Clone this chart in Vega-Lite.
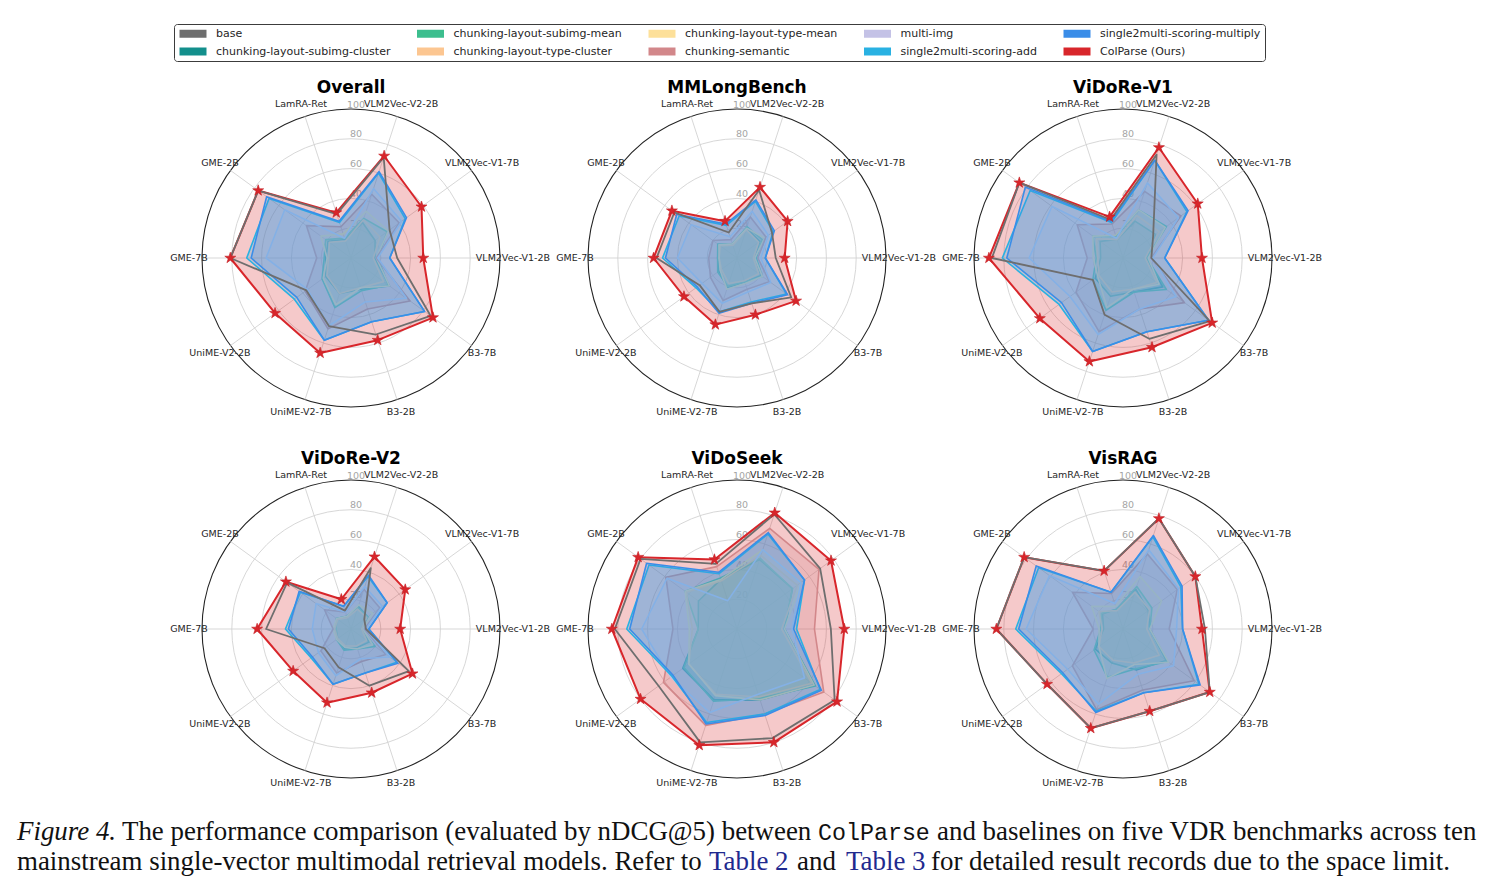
{
"$schema": "https://vega.github.io/schema/vega-lite/v6.json",
"background": "white",
"padding": {"left": 17, "top": 23, "right": 0, "bottom": 0},
"bounds": "flush",
"spacing": 689,
"config": {"font": "DejaVu Sans", "view": {"stroke": null}},
"datasets": {
"scores": [
{"b":"Overall","s":"base","m":"VLM2Vec-V1-2B","v":31},{"b":"Overall","s":"base","m":"VLM2Vec-V1-7B","v":32},{"b":"Overall","s":"base","m":"VLM2Vec-V2-2B","v":71},{"b":"Overall","s":"base","m":"LamRA-Ret","v":31},{"b":"Overall","s":"base","m":"GME-2B","v":77},{"b":"Overall","s":"base","m":"GME-7B","v":81},{"b":"Overall","s":"base","m":"UniME-V2-2B","v":37},{"b":"Overall","s":"base","m":"UniME-V2-7B","v":48},{"b":"Overall","s":"base","m":"B3-2B","v":54},{"b":"Overall","s":"base","m":"B3-7B","v":66},
{"b":"Overall","s":"chunking-layout-subimg-cluster","m":"VLM2Vec-V1-2B","v":16},{"b":"Overall","s":"chunking-layout-subimg-cluster","m":"VLM2Vec-V1-7B","v":20},{"b":"Overall","s":"chunking-layout-subimg-cluster","m":"VLM2Vec-V2-2B","v":25},{"b":"Overall","s":"chunking-layout-subimg-cluster","m":"LamRA-Ret","v":13},{"b":"Overall","s":"chunking-layout-subimg-cluster","m":"GME-2B","v":19},{"b":"Overall","s":"chunking-layout-subimg-cluster","m":"GME-7B","v":17},{"b":"Overall","s":"chunking-layout-subimg-cluster","m":"UniME-V2-2B","v":21},{"b":"Overall","s":"chunking-layout-subimg-cluster","m":"UniME-V2-7B","v":25},{"b":"Overall","s":"chunking-layout-subimg-cluster","m":"B3-2B","v":22},{"b":"Overall","s":"chunking-layout-subimg-cluster","m":"B3-7B","v":32},
{"b":"Overall","s":"chunking-layout-subimg-mean","m":"VLM2Vec-V1-2B","v":18},{"b":"Overall","s":"chunking-layout-subimg-mean","m":"VLM2Vec-V1-7B","v":30},{"b":"Overall","s":"chunking-layout-subimg-mean","m":"VLM2Vec-V2-2B","v":28},{"b":"Overall","s":"chunking-layout-subimg-mean","m":"LamRA-Ret","v":14},{"b":"Overall","s":"chunking-layout-subimg-mean","m":"GME-2B","v":21},{"b":"Overall","s":"chunking-layout-subimg-mean","m":"GME-7B","v":18},{"b":"Overall","s":"chunking-layout-subimg-mean","m":"UniME-V2-2B","v":24},{"b":"Overall","s":"chunking-layout-subimg-mean","m":"UniME-V2-7B","v":35},{"b":"Overall","s":"chunking-layout-subimg-mean","m":"B3-2B","v":23},{"b":"Overall","s":"chunking-layout-subimg-mean","m":"B3-7B","v":31},
{"b":"Overall","s":"chunking-layout-type-cluster","m":"VLM2Vec-V1-2B","v":15},{"b":"Overall","s":"chunking-layout-type-cluster","m":"VLM2Vec-V1-7B","v":24},{"b":"Overall","s":"chunking-layout-type-cluster","m":"VLM2Vec-V2-2B","v":27},{"b":"Overall","s":"chunking-layout-type-cluster","m":"LamRA-Ret","v":12},{"b":"Overall","s":"chunking-layout-type-cluster","m":"GME-2B","v":18},{"b":"Overall","s":"chunking-layout-type-cluster","m":"GME-7B","v":15},{"b":"Overall","s":"chunking-layout-type-cluster","m":"UniME-V2-2B","v":20},{"b":"Overall","s":"chunking-layout-type-cluster","m":"UniME-V2-7B","v":25},{"b":"Overall","s":"chunking-layout-type-cluster","m":"B3-2B","v":21},{"b":"Overall","s":"chunking-layout-type-cluster","m":"B3-7B","v":27},
{"b":"Overall","s":"chunking-layout-type-mean","m":"VLM2Vec-V1-2B","v":17},{"b":"Overall","s":"chunking-layout-type-mean","m":"VLM2Vec-V1-7B","v":31},{"b":"Overall","s":"chunking-layout-type-mean","m":"VLM2Vec-V2-2B","v":33},{"b":"Overall","s":"chunking-layout-type-mean","m":"LamRA-Ret","v":17},{"b":"Overall","s":"chunking-layout-type-mean","m":"GME-2B","v":25},{"b":"Overall","s":"chunking-layout-type-mean","m":"GME-7B","v":16},{"b":"Overall","s":"chunking-layout-type-mean","m":"UniME-V2-2B","v":23},{"b":"Overall","s":"chunking-layout-type-mean","m":"UniME-V2-7B","v":33},{"b":"Overall","s":"chunking-layout-type-mean","m":"B3-2B","v":21},{"b":"Overall","s":"chunking-layout-type-mean","m":"B3-7B","v":32},
{"b":"Overall","s":"chunking-semantic","m":"VLM2Vec-V1-2B","v":17},{"b":"Overall","s":"chunking-semantic","m":"VLM2Vec-V1-7B","v":40},{"b":"Overall","s":"chunking-semantic","m":"VLM2Vec-V2-2B","v":45},{"b":"Overall","s":"chunking-semantic","m":"LamRA-Ret","v":22},{"b":"Overall","s":"chunking-semantic","m":"GME-2B","v":37},{"b":"Overall","s":"chunking-semantic","m":"GME-7B","v":23},{"b":"Overall","s":"chunking-semantic","m":"UniME-V2-2B","v":38},{"b":"Overall","s":"chunking-semantic","m":"UniME-V2-7B","v":50},{"b":"Overall","s":"chunking-semantic","m":"B3-2B","v":36},{"b":"Overall","s":"chunking-semantic","m":"B3-7B","v":49},
{"b":"Overall","s":"multi-img","m":"VLM2Vec-V1-2B","v":18},{"b":"Overall","s":"multi-img","m":"VLM2Vec-V1-7B","v":42},{"b":"Overall","s":"multi-img","m":"VLM2Vec-V2-2B","v":49},{"b":"Overall","s":"multi-img","m":"LamRA-Ret","v":14},{"b":"Overall","s":"multi-img","m":"GME-2B","v":55},{"b":"Overall","s":"multi-img","m":"GME-7B","v":57},{"b":"Overall","s":"multi-img","m":"UniME-V2-2B","v":36},{"b":"Overall","s":"multi-img","m":"UniME-V2-7B","v":48},{"b":"Overall","s":"multi-img","m":"B3-2B","v":31},{"b":"Overall","s":"multi-img","m":"B3-7B","v":46},
{"b":"Overall","s":"single2multi-scoring-add","m":"VLM2Vec-V1-2B","v":26},{"b":"Overall","s":"single2multi-scoring-add","m":"VLM2Vec-V1-7B","v":45},{"b":"Overall","s":"single2multi-scoring-add","m":"VLM2Vec-V2-2B","v":60},{"b":"Overall","s":"single2multi-scoring-add","m":"LamRA-Ret","v":25},{"b":"Overall","s":"single2multi-scoring-add","m":"GME-2B","v":68},{"b":"Overall","s":"single2multi-scoring-add","m":"GME-7B","v":70},{"b":"Overall","s":"single2multi-scoring-add","m":"UniME-V2-2B","v":47},{"b":"Overall","s":"single2multi-scoring-add","m":"UniME-V2-7B","v":58},{"b":"Overall","s":"single2multi-scoring-add","m":"B3-2B","v":45},{"b":"Overall","s":"single2multi-scoring-add","m":"B3-7B","v":61},
{"b":"Overall","s":"single2multi-scoring-multiply","m":"VLM2Vec-V1-2B","v":26},{"b":"Overall","s":"single2multi-scoring-multiply","m":"VLM2Vec-V1-7B","v":46},{"b":"Overall","s":"single2multi-scoring-multiply","m":"VLM2Vec-V2-2B","v":61},{"b":"Overall","s":"single2multi-scoring-multiply","m":"LamRA-Ret","v":26},{"b":"Overall","s":"single2multi-scoring-multiply","m":"GME-2B","v":70},{"b":"Overall","s":"single2multi-scoring-multiply","m":"GME-7B","v":67},{"b":"Overall","s":"single2multi-scoring-multiply","m":"UniME-V2-2B","v":45},{"b":"Overall","s":"single2multi-scoring-multiply","m":"UniME-V2-7B","v":58},{"b":"Overall","s":"single2multi-scoring-multiply","m":"B3-2B","v":45},{"b":"Overall","s":"single2multi-scoring-multiply","m":"B3-7B","v":61},
{"b":"Overall","s":"ColParse (Ours)","m":"VLM2Vec-V1-2B","v":48.5},{"b":"Overall","s":"ColParse (Ours)","m":"VLM2Vec-V1-7B","v":58.5},{"b":"Overall","s":"ColParse (Ours)","m":"VLM2Vec-V2-2B","v":72},{"b":"Overall","s":"ColParse (Ours)","m":"LamRA-Ret","v":32},{"b":"Overall","s":"ColParse (Ours)","m":"GME-2B","v":77},{"b":"Overall","s":"ColParse (Ours)","m":"GME-7B","v":81},{"b":"Overall","s":"ColParse (Ours)","m":"UniME-V2-2B","v":63},{"b":"Overall","s":"ColParse (Ours)","m":"UniME-V2-7B","v":67},{"b":"Overall","s":"ColParse (Ours)","m":"B3-2B","v":58},{"b":"Overall","s":"ColParse (Ours)","m":"B3-7B","v":68},

{"b":"MMLongBench","s":"base","m":"VLM2Vec-V1-2B","v":26},{"b":"MMLongBench","s":"base","m":"VLM2Vec-V1-7B","v":29},{"b":"MMLongBench","s":"base","m":"VLM2Vec-V2-2B","v":48},{"b":"MMLongBench","s":"base","m":"LamRA-Ret","v":18},{"b":"MMLongBench","s":"base","m":"GME-2B","v":52},{"b":"MMLongBench","s":"base","m":"GME-7B","v":54},{"b":"MMLongBench","s":"base","m":"UniME-V2-2B","v":31},{"b":"MMLongBench","s":"base","m":"UniME-V2-7B","v":38},{"b":"MMLongBench","s":"base","m":"B3-2B","v":32},{"b":"MMLongBench","s":"base","m":"B3-7B","v":45},
{"b":"MMLongBench","s":"chunking-layout-subimg-cluster","m":"VLM2Vec-V1-2B","v":12},{"b":"MMLongBench","s":"chunking-layout-subimg-cluster","m":"VLM2Vec-V1-7B","v":19},{"b":"MMLongBench","s":"chunking-layout-subimg-cluster","m":"VLM2Vec-V2-2B","v":21},{"b":"MMLongBench","s":"chunking-layout-subimg-cluster","m":"LamRA-Ret","v":10},{"b":"MMLongBench","s":"chunking-layout-subimg-cluster","m":"GME-2B","v":15},{"b":"MMLongBench","s":"chunking-layout-subimg-cluster","m":"GME-7B","v":13},{"b":"MMLongBench","s":"chunking-layout-subimg-cluster","m":"UniME-V2-2B","v":15},{"b":"MMLongBench","s":"chunking-layout-subimg-cluster","m":"UniME-V2-7B","v":21},{"b":"MMLongBench","s":"chunking-layout-subimg-cluster","m":"B3-2B","v":17},{"b":"MMLongBench","s":"chunking-layout-subimg-cluster","m":"B3-7B","v":20},
{"b":"MMLongBench","s":"chunking-layout-subimg-mean","m":"VLM2Vec-V1-2B","v":13},{"b":"MMLongBench","s":"chunking-layout-subimg-mean","m":"VLM2Vec-V1-7B","v":21},{"b":"MMLongBench","s":"chunking-layout-subimg-mean","m":"VLM2Vec-V2-2B","v":22},{"b":"MMLongBench","s":"chunking-layout-subimg-mean","m":"LamRA-Ret","v":10},{"b":"MMLongBench","s":"chunking-layout-subimg-mean","m":"GME-2B","v":16},{"b":"MMLongBench","s":"chunking-layout-subimg-mean","m":"GME-7B","v":13},{"b":"MMLongBench","s":"chunking-layout-subimg-mean","m":"UniME-V2-2B","v":16},{"b":"MMLongBench","s":"chunking-layout-subimg-mean","m":"UniME-V2-7B","v":20},{"b":"MMLongBench","s":"chunking-layout-subimg-mean","m":"B3-2B","v":17},{"b":"MMLongBench","s":"chunking-layout-subimg-mean","m":"B3-7B","v":21},
{"b":"MMLongBench","s":"chunking-layout-type-cluster","m":"VLM2Vec-V1-2B","v":11},{"b":"MMLongBench","s":"chunking-layout-type-cluster","m":"VLM2Vec-V1-7B","v":18},{"b":"MMLongBench","s":"chunking-layout-type-cluster","m":"VLM2Vec-V2-2B","v":20},{"b":"MMLongBench","s":"chunking-layout-type-cluster","m":"LamRA-Ret","v":9},{"b":"MMLongBench","s":"chunking-layout-type-cluster","m":"GME-2B","v":14},{"b":"MMLongBench","s":"chunking-layout-type-cluster","m":"GME-7B","v":12},{"b":"MMLongBench","s":"chunking-layout-type-cluster","m":"UniME-V2-2B","v":13},{"b":"MMLongBench","s":"chunking-layout-type-cluster","m":"UniME-V2-7B","v":18},{"b":"MMLongBench","s":"chunking-layout-type-cluster","m":"B3-2B","v":16},{"b":"MMLongBench","s":"chunking-layout-type-cluster","m":"B3-7B","v":18},
{"b":"MMLongBench","s":"chunking-layout-type-mean","m":"VLM2Vec-V1-2B","v":12},{"b":"MMLongBench","s":"chunking-layout-type-mean","m":"VLM2Vec-V1-7B","v":23},{"b":"MMLongBench","s":"chunking-layout-type-mean","m":"VLM2Vec-V2-2B","v":21},{"b":"MMLongBench","s":"chunking-layout-type-mean","m":"LamRA-Ret","v":10},{"b":"MMLongBench","s":"chunking-layout-type-mean","m":"GME-2B","v":15},{"b":"MMLongBench","s":"chunking-layout-type-mean","m":"GME-7B","v":12},{"b":"MMLongBench","s":"chunking-layout-type-mean","m":"UniME-V2-2B","v":14},{"b":"MMLongBench","s":"chunking-layout-type-mean","m":"UniME-V2-7B","v":22},{"b":"MMLongBench","s":"chunking-layout-type-mean","m":"B3-2B","v":18},{"b":"MMLongBench","s":"chunking-layout-type-mean","m":"B3-7B","v":21},
{"b":"MMLongBench","s":"chunking-semantic","m":"VLM2Vec-V1-2B","v":14},{"b":"MMLongBench","s":"chunking-semantic","m":"VLM2Vec-V1-7B","v":24},{"b":"MMLongBench","s":"chunking-semantic","m":"VLM2Vec-V2-2B","v":29},{"b":"MMLongBench","s":"chunking-semantic","m":"LamRA-Ret","v":13},{"b":"MMLongBench","s":"chunking-semantic","m":"GME-2B","v":20},{"b":"MMLongBench","s":"chunking-semantic","m":"GME-7B","v":19},{"b":"MMLongBench","s":"chunking-semantic","m":"UniME-V2-2B","v":22},{"b":"MMLongBench","s":"chunking-semantic","m":"UniME-V2-7B","v":30},{"b":"MMLongBench","s":"chunking-semantic","m":"B3-2B","v":22},{"b":"MMLongBench","s":"chunking-semantic","m":"B3-7B","v":27},
{"b":"MMLongBench","s":"multi-img","m":"VLM2Vec-V1-2B","v":16},{"b":"MMLongBench","s":"multi-img","m":"VLM2Vec-V1-7B","v":26},{"b":"MMLongBench","s":"multi-img","m":"VLM2Vec-V2-2B","v":33},{"b":"MMLongBench","s":"multi-img","m":"LamRA-Ret","v":15},{"b":"MMLongBench","s":"multi-img","m":"GME-2B","v":38},{"b":"MMLongBench","s":"multi-img","m":"GME-7B","v":40},{"b":"MMLongBench","s":"multi-img","m":"UniME-V2-2B","v":29},{"b":"MMLongBench","s":"multi-img","m":"UniME-V2-7B","v":32},{"b":"MMLongBench","s":"multi-img","m":"B3-2B","v":24},{"b":"MMLongBench","s":"multi-img","m":"B3-7B","v":28},
{"b":"MMLongBench","s":"single2multi-scoring-add","m":"VLM2Vec-V1-2B","v":19},{"b":"MMLongBench","s":"single2multi-scoring-add","m":"VLM2Vec-V1-7B","v":30},{"b":"MMLongBench","s":"single2multi-scoring-add","m":"VLM2Vec-V2-2B","v":40},{"b":"MMLongBench","s":"single2multi-scoring-add","m":"LamRA-Ret","v":23},{"b":"MMLongBench","s":"single2multi-scoring-add","m":"GME-2B","v":48},{"b":"MMLongBench","s":"single2multi-scoring-add","m":"GME-7B","v":50},{"b":"MMLongBench","s":"single2multi-scoring-add","m":"UniME-V2-2B","v":34},{"b":"MMLongBench","s":"single2multi-scoring-add","m":"UniME-V2-7B","v":38},{"b":"MMLongBench","s":"single2multi-scoring-add","m":"B3-2B","v":31},{"b":"MMLongBench","s":"single2multi-scoring-add","m":"B3-7B","v":41},
{"b":"MMLongBench","s":"single2multi-scoring-multiply","m":"VLM2Vec-V1-2B","v":19},{"b":"MMLongBench","s":"single2multi-scoring-multiply","m":"VLM2Vec-V1-7B","v":31},{"b":"MMLongBench","s":"single2multi-scoring-multiply","m":"VLM2Vec-V2-2B","v":41},{"b":"MMLongBench","s":"single2multi-scoring-multiply","m":"LamRA-Ret","v":24},{"b":"MMLongBench","s":"single2multi-scoring-multiply","m":"GME-2B","v":50},{"b":"MMLongBench","s":"single2multi-scoring-multiply","m":"GME-7B","v":48},{"b":"MMLongBench","s":"single2multi-scoring-multiply","m":"UniME-V2-2B","v":33},{"b":"MMLongBench","s":"single2multi-scoring-multiply","m":"UniME-V2-7B","v":39},{"b":"MMLongBench","s":"single2multi-scoring-multiply","m":"B3-2B","v":32},{"b":"MMLongBench","s":"single2multi-scoring-multiply","m":"B3-7B","v":42},
{"b":"MMLongBench","s":"ColParse (Ours)","m":"VLM2Vec-V1-2B","v":32},{"b":"MMLongBench","s":"ColParse (Ours)","m":"VLM2Vec-V1-7B","v":42},{"b":"MMLongBench","s":"ColParse (Ours)","m":"VLM2Vec-V2-2B","v":50},{"b":"MMLongBench","s":"ColParse (Ours)","m":"LamRA-Ret","v":26},{"b":"MMLongBench","s":"ColParse (Ours)","m":"GME-2B","v":54},{"b":"MMLongBench","s":"ColParse (Ours)","m":"GME-7B","v":56},{"b":"MMLongBench","s":"ColParse (Ours)","m":"UniME-V2-2B","v":44},{"b":"MMLongBench","s":"ColParse (Ours)","m":"UniME-V2-7B","v":47},{"b":"MMLongBench","s":"ColParse (Ours)","m":"B3-2B","v":40},{"b":"MMLongBench","s":"ColParse (Ours)","m":"B3-7B","v":49},

{"b":"ViDoRe-V1","s":"base","m":"VLM2Vec-V1-2B","v":19},{"b":"ViDoRe-V1","s":"base","m":"VLM2Vec-V1-7B","v":25},{"b":"ViDoRe-V1","s":"base","m":"VLM2Vec-V2-2B","v":73},{"b":"ViDoRe-V1","s":"base","m":"LamRA-Ret","v":27},{"b":"ViDoRe-V1","s":"base","m":"GME-2B","v":86},{"b":"ViDoRe-V1","s":"base","m":"GME-7B","v":88},{"b":"ViDoRe-V1","s":"base","m":"UniME-V2-2B","v":25},{"b":"ViDoRe-V1","s":"base","m":"UniME-V2-7B","v":40},{"b":"ViDoRe-V1","s":"base","m":"B3-2B","v":57},{"b":"ViDoRe-V1","s":"base","m":"B3-7B","v":72},
{"b":"ViDoRe-V1","s":"chunking-layout-subimg-cluster","m":"VLM2Vec-V1-2B","v":16},{"b":"ViDoRe-V1","s":"chunking-layout-subimg-cluster","m":"VLM2Vec-V1-7B","v":27},{"b":"ViDoRe-V1","s":"chunking-layout-subimg-cluster","m":"VLM2Vec-V2-2B","v":26},{"b":"ViDoRe-V1","s":"chunking-layout-subimg-cluster","m":"LamRA-Ret","v":13},{"b":"ViDoRe-V1","s":"chunking-layout-subimg-cluster","m":"GME-2B","v":19},{"b":"ViDoRe-V1","s":"chunking-layout-subimg-cluster","m":"GME-7B","v":15},{"b":"ViDoRe-V1","s":"chunking-layout-subimg-cluster","m":"UniME-V2-2B","v":23},{"b":"ViDoRe-V1","s":"chunking-layout-subimg-cluster","m":"UniME-V2-7B","v":27},{"b":"ViDoRe-V1","s":"chunking-layout-subimg-cluster","m":"B3-2B","v":24},{"b":"ViDoRe-V1","s":"chunking-layout-subimg-cluster","m":"B3-7B","v":33},
{"b":"ViDoRe-V1","s":"chunking-layout-subimg-mean","m":"VLM2Vec-V1-2B","v":16},{"b":"ViDoRe-V1","s":"chunking-layout-subimg-mean","m":"VLM2Vec-V1-7B","v":36},{"b":"ViDoRe-V1","s":"chunking-layout-subimg-mean","m":"VLM2Vec-V2-2B","v":34},{"b":"ViDoRe-V1","s":"chunking-layout-subimg-mean","m":"LamRA-Ret","v":15},{"b":"ViDoRe-V1","s":"chunking-layout-subimg-mean","m":"GME-2B","v":25},{"b":"ViDoRe-V1","s":"chunking-layout-subimg-mean","m":"GME-7B","v":18},{"b":"ViDoRe-V1","s":"chunking-layout-subimg-mean","m":"UniME-V2-2B","v":25},{"b":"ViDoRe-V1","s":"chunking-layout-subimg-mean","m":"UniME-V2-7B","v":37},{"b":"ViDoRe-V1","s":"chunking-layout-subimg-mean","m":"B3-2B","v":24},{"b":"ViDoRe-V1","s":"chunking-layout-subimg-mean","m":"B3-7B","v":36},
{"b":"ViDoRe-V1","s":"chunking-layout-type-cluster","m":"VLM2Vec-V1-2B","v":15},{"b":"ViDoRe-V1","s":"chunking-layout-type-cluster","m":"VLM2Vec-V1-7B","v":30},{"b":"ViDoRe-V1","s":"chunking-layout-type-cluster","m":"VLM2Vec-V2-2B","v":30},{"b":"ViDoRe-V1","s":"chunking-layout-type-cluster","m":"LamRA-Ret","v":13},{"b":"ViDoRe-V1","s":"chunking-layout-type-cluster","m":"GME-2B","v":22},{"b":"ViDoRe-V1","s":"chunking-layout-type-cluster","m":"GME-7B","v":17},{"b":"ViDoRe-V1","s":"chunking-layout-type-cluster","m":"UniME-V2-2B","v":20},{"b":"ViDoRe-V1","s":"chunking-layout-type-cluster","m":"UniME-V2-7B","v":24},{"b":"ViDoRe-V1","s":"chunking-layout-type-cluster","m":"B3-2B","v":22},{"b":"ViDoRe-V1","s":"chunking-layout-type-cluster","m":"B3-7B","v":28},
{"b":"ViDoRe-V1","s":"chunking-layout-type-mean","m":"VLM2Vec-V1-2B","v":17},{"b":"ViDoRe-V1","s":"chunking-layout-type-mean","m":"VLM2Vec-V1-7B","v":35},{"b":"ViDoRe-V1","s":"chunking-layout-type-mean","m":"VLM2Vec-V2-2B","v":34},{"b":"ViDoRe-V1","s":"chunking-layout-type-mean","m":"LamRA-Ret","v":16},{"b":"ViDoRe-V1","s":"chunking-layout-type-mean","m":"GME-2B","v":25},{"b":"ViDoRe-V1","s":"chunking-layout-type-mean","m":"GME-7B","v":20},{"b":"ViDoRe-V1","s":"chunking-layout-type-mean","m":"UniME-V2-2B","v":21},{"b":"ViDoRe-V1","s":"chunking-layout-type-mean","m":"UniME-V2-7B","v":35},{"b":"ViDoRe-V1","s":"chunking-layout-type-mean","m":"B3-2B","v":22},{"b":"ViDoRe-V1","s":"chunking-layout-type-mean","m":"B3-7B","v":30},
{"b":"ViDoRe-V1","s":"chunking-semantic","m":"VLM2Vec-V1-2B","v":19},{"b":"ViDoRe-V1","s":"chunking-semantic","m":"VLM2Vec-V1-7B","v":48},{"b":"ViDoRe-V1","s":"chunking-semantic","m":"VLM2Vec-V2-2B","v":47},{"b":"ViDoRe-V1","s":"chunking-semantic","m":"LamRA-Ret","v":24},{"b":"ViDoRe-V1","s":"chunking-semantic","m":"GME-2B","v":38},{"b":"ViDoRe-V1","s":"chunking-semantic","m":"GME-7B","v":24},{"b":"ViDoRe-V1","s":"chunking-semantic","m":"UniME-V2-2B","v":39},{"b":"ViDoRe-V1","s":"chunking-semantic","m":"UniME-V2-7B","v":52},{"b":"ViDoRe-V1","s":"chunking-semantic","m":"B3-2B","v":36},{"b":"ViDoRe-V1","s":"chunking-semantic","m":"B3-7B","v":51},
{"b":"ViDoRe-V1","s":"multi-img","m":"VLM2Vec-V1-2B","v":20},{"b":"ViDoRe-V1","s":"multi-img","m":"VLM2Vec-V1-7B","v":46},{"b":"ViDoRe-V1","s":"multi-img","m":"VLM2Vec-V2-2B","v":53},{"b":"ViDoRe-V1","s":"multi-img","m":"LamRA-Ret","v":14},{"b":"ViDoRe-V1","s":"multi-img","m":"GME-2B","v":59},{"b":"ViDoRe-V1","s":"multi-img","m":"GME-7B","v":63},{"b":"ViDoRe-V1","s":"multi-img","m":"UniME-V2-2B","v":44},{"b":"ViDoRe-V1","s":"multi-img","m":"UniME-V2-7B","v":54},{"b":"ViDoRe-V1","s":"multi-img","m":"B3-2B","v":36},{"b":"ViDoRe-V1","s":"multi-img","m":"B3-7B","v":44},
{"b":"ViDoRe-V1","s":"single2multi-scoring-add","m":"VLM2Vec-V1-2B","v":28},{"b":"ViDoRe-V1","s":"single2multi-scoring-add","m":"VLM2Vec-V1-7B","v":53},{"b":"ViDoRe-V1","s":"single2multi-scoring-add","m":"VLM2Vec-V2-2B","v":69},{"b":"ViDoRe-V1","s":"single2multi-scoring-add","m":"LamRA-Ret","v":25},{"b":"ViDoRe-V1","s":"single2multi-scoring-add","m":"GME-2B","v":77},{"b":"ViDoRe-V1","s":"single2multi-scoring-add","m":"GME-7B","v":81},{"b":"ViDoRe-V1","s":"single2multi-scoring-add","m":"UniME-V2-2B","v":53},{"b":"ViDoRe-V1","s":"single2multi-scoring-add","m":"UniME-V2-7B","v":66},{"b":"ViDoRe-V1","s":"single2multi-scoring-add","m":"B3-2B","v":52},{"b":"ViDoRe-V1","s":"single2multi-scoring-add","m":"B3-7B","v":71},
{"b":"ViDoRe-V1","s":"single2multi-scoring-multiply","m":"VLM2Vec-V1-2B","v":28},{"b":"ViDoRe-V1","s":"single2multi-scoring-multiply","m":"VLM2Vec-V1-7B","v":54},{"b":"ViDoRe-V1","s":"single2multi-scoring-multiply","m":"VLM2Vec-V2-2B","v":69},{"b":"ViDoRe-V1","s":"single2multi-scoring-multiply","m":"LamRA-Ret","v":26},{"b":"ViDoRe-V1","s":"single2multi-scoring-multiply","m":"GME-2B","v":81},{"b":"ViDoRe-V1","s":"single2multi-scoring-multiply","m":"GME-7B","v":78},{"b":"ViDoRe-V1","s":"single2multi-scoring-multiply","m":"UniME-V2-2B","v":51},{"b":"ViDoRe-V1","s":"single2multi-scoring-multiply","m":"UniME-V2-7B","v":66},{"b":"ViDoRe-V1","s":"single2multi-scoring-multiply","m":"B3-2B","v":52},{"b":"ViDoRe-V1","s":"single2multi-scoring-multiply","m":"B3-7B","v":71},
{"b":"ViDoRe-V1","s":"ColParse (Ours)","m":"VLM2Vec-V1-2B","v":53},{"b":"ViDoRe-V1","s":"ColParse (Ours)","m":"VLM2Vec-V1-7B","v":62},{"b":"ViDoRe-V1","s":"ColParse (Ours)","m":"VLM2Vec-V2-2B","v":78},{"b":"ViDoRe-V1","s":"ColParse (Ours)","m":"LamRA-Ret","v":29},{"b":"ViDoRe-V1","s":"ColParse (Ours)","m":"GME-2B","v":86},{"b":"ViDoRe-V1","s":"ColParse (Ours)","m":"GME-7B","v":90},{"b":"ViDoRe-V1","s":"ColParse (Ours)","m":"UniME-V2-2B","v":69},{"b":"ViDoRe-V1","s":"ColParse (Ours)","m":"UniME-V2-7B","v":73},{"b":"ViDoRe-V1","s":"ColParse (Ours)","m":"B3-2B","v":63},{"b":"ViDoRe-V1","s":"ColParse (Ours)","m":"B3-7B","v":74},

{"b":"ViDoRe-V2","s":"base","m":"VLM2Vec-V1-2B","v":10},{"b":"ViDoRe-V2","s":"base","m":"VLM2Vec-V1-7B","v":11},{"b":"ViDoRe-V2","s":"base","m":"VLM2Vec-V2-2B","v":43},{"b":"ViDoRe-V2","s":"base","m":"LamRA-Ret","v":13},{"b":"ViDoRe-V2","s":"base","m":"GME-2B","v":53},{"b":"ViDoRe-V2","s":"base","m":"GME-7B","v":57},{"b":"ViDoRe-V2","s":"base","m":"UniME-V2-2B","v":22},{"b":"ViDoRe-V2","s":"base","m":"UniME-V2-7B","v":27},{"b":"ViDoRe-V2","s":"base","m":"B3-2B","v":40},{"b":"ViDoRe-V2","s":"base","m":"B3-7B","v":48},
{"b":"ViDoRe-V2","s":"chunking-layout-subimg-cluster","m":"VLM2Vec-V1-2B","v":7},{"b":"ViDoRe-V2","s":"chunking-layout-subimg-cluster","m":"VLM2Vec-V1-7B","v":14},{"b":"ViDoRe-V2","s":"chunking-layout-subimg-cluster","m":"VLM2Vec-V2-2B","v":16},{"b":"ViDoRe-V2","s":"chunking-layout-subimg-cluster","m":"LamRA-Ret","v":9},{"b":"ViDoRe-V2","s":"chunking-layout-subimg-cluster","m":"GME-2B","v":12},{"b":"ViDoRe-V2","s":"chunking-layout-subimg-cluster","m":"GME-7B","v":10},{"b":"ViDoRe-V2","s":"chunking-layout-subimg-cluster","m":"UniME-V2-2B","v":11},{"b":"ViDoRe-V2","s":"chunking-layout-subimg-cluster","m":"UniME-V2-7B","v":14},{"b":"ViDoRe-V2","s":"chunking-layout-subimg-cluster","m":"B3-2B","v":13},{"b":"ViDoRe-V2","s":"chunking-layout-subimg-cluster","m":"B3-7B","v":15},
{"b":"ViDoRe-V2","s":"chunking-layout-subimg-mean","m":"VLM2Vec-V1-2B","v":7},{"b":"ViDoRe-V2","s":"chunking-layout-subimg-mean","m":"VLM2Vec-V1-7B","v":14},{"b":"ViDoRe-V2","s":"chunking-layout-subimg-mean","m":"VLM2Vec-V2-2B","v":15},{"b":"ViDoRe-V2","s":"chunking-layout-subimg-mean","m":"LamRA-Ret","v":9},{"b":"ViDoRe-V2","s":"chunking-layout-subimg-mean","m":"GME-2B","v":12},{"b":"ViDoRe-V2","s":"chunking-layout-subimg-mean","m":"GME-7B","v":10},{"b":"ViDoRe-V2","s":"chunking-layout-subimg-mean","m":"UniME-V2-2B","v":12},{"b":"ViDoRe-V2","s":"chunking-layout-subimg-mean","m":"UniME-V2-7B","v":15},{"b":"ViDoRe-V2","s":"chunking-layout-subimg-mean","m":"B3-2B","v":14},{"b":"ViDoRe-V2","s":"chunking-layout-subimg-mean","m":"B3-7B","v":20},
{"b":"ViDoRe-V2","s":"chunking-layout-type-cluster","m":"VLM2Vec-V1-2B","v":7},{"b":"ViDoRe-V2","s":"chunking-layout-type-cluster","m":"VLM2Vec-V1-7B","v":13},{"b":"ViDoRe-V2","s":"chunking-layout-type-cluster","m":"VLM2Vec-V2-2B","v":14},{"b":"ViDoRe-V2","s":"chunking-layout-type-cluster","m":"LamRA-Ret","v":8},{"b":"ViDoRe-V2","s":"chunking-layout-type-cluster","m":"GME-2B","v":11},{"b":"ViDoRe-V2","s":"chunking-layout-type-cluster","m":"GME-7B","v":11},{"b":"ViDoRe-V2","s":"chunking-layout-type-cluster","m":"UniME-V2-2B","v":11},{"b":"ViDoRe-V2","s":"chunking-layout-type-cluster","m":"UniME-V2-7B","v":12},{"b":"ViDoRe-V2","s":"chunking-layout-type-cluster","m":"B3-2B","v":12},{"b":"ViDoRe-V2","s":"chunking-layout-type-cluster","m":"B3-7B","v":13},
{"b":"ViDoRe-V2","s":"chunking-layout-type-mean","m":"VLM2Vec-V1-2B","v":8},{"b":"ViDoRe-V2","s":"chunking-layout-type-mean","m":"VLM2Vec-V1-7B","v":18},{"b":"ViDoRe-V2","s":"chunking-layout-type-mean","m":"VLM2Vec-V2-2B","v":17},{"b":"ViDoRe-V2","s":"chunking-layout-type-mean","m":"LamRA-Ret","v":9},{"b":"ViDoRe-V2","s":"chunking-layout-type-mean","m":"GME-2B","v":12},{"b":"ViDoRe-V2","s":"chunking-layout-type-mean","m":"GME-7B","v":12},{"b":"ViDoRe-V2","s":"chunking-layout-type-mean","m":"UniME-V2-2B","v":12},{"b":"ViDoRe-V2","s":"chunking-layout-type-mean","m":"UniME-V2-7B","v":13},{"b":"ViDoRe-V2","s":"chunking-layout-type-mean","m":"B3-2B","v":14},{"b":"ViDoRe-V2","s":"chunking-layout-type-mean","m":"B3-7B","v":18},
{"b":"ViDoRe-V2","s":"chunking-semantic","m":"VLM2Vec-V1-2B","v":9},{"b":"ViDoRe-V2","s":"chunking-semantic","m":"VLM2Vec-V1-7B","v":24},{"b":"ViDoRe-V2","s":"chunking-semantic","m":"VLM2Vec-V2-2B","v":28},{"b":"ViDoRe-V2","s":"chunking-semantic","m":"LamRA-Ret","v":12},{"b":"ViDoRe-V2","s":"chunking-semantic","m":"GME-2B","v":22},{"b":"ViDoRe-V2","s":"chunking-semantic","m":"GME-7B","v":12},{"b":"ViDoRe-V2","s":"chunking-semantic","m":"UniME-V2-2B","v":25},{"b":"ViDoRe-V2","s":"chunking-semantic","m":"UniME-V2-7B","v":31},{"b":"ViDoRe-V2","s":"chunking-semantic","m":"B3-2B","v":23},{"b":"ViDoRe-V2","s":"chunking-semantic","m":"B3-7B","v":29},
{"b":"ViDoRe-V2","s":"multi-img","m":"VLM2Vec-V1-2B","v":10},{"b":"ViDoRe-V2","s":"multi-img","m":"VLM2Vec-V1-7B","v":26},{"b":"ViDoRe-V2","s":"multi-img","m":"VLM2Vec-V2-2B","v":30},{"b":"ViDoRe-V2","s":"multi-img","m":"LamRA-Ret","v":12},{"b":"ViDoRe-V2","s":"multi-img","m":"GME-2B","v":29},{"b":"ViDoRe-V2","s":"multi-img","m":"GME-7B","v":26},{"b":"ViDoRe-V2","s":"multi-img","m":"UniME-V2-2B","v":27},{"b":"ViDoRe-V2","s":"multi-img","m":"UniME-V2-7B","v":33},{"b":"ViDoRe-V2","s":"multi-img","m":"B3-2B","v":21},{"b":"ViDoRe-V2","s":"multi-img","m":"B3-7B","v":32},
{"b":"ViDoRe-V2","s":"single2multi-scoring-add","m":"VLM2Vec-V1-2B","v":12},{"b":"ViDoRe-V2","s":"single2multi-scoring-add","m":"VLM2Vec-V1-7B","v":30},{"b":"ViDoRe-V2","s":"single2multi-scoring-add","m":"VLM2Vec-V2-2B","v":37},{"b":"ViDoRe-V2","s":"single2multi-scoring-add","m":"LamRA-Ret","v":16},{"b":"ViDoRe-V2","s":"single2multi-scoring-add","m":"GME-2B","v":42},{"b":"ViDoRe-V2","s":"single2multi-scoring-add","m":"GME-7B","v":44},{"b":"ViDoRe-V2","s":"single2multi-scoring-add","m":"UniME-V2-2B","v":33},{"b":"ViDoRe-V2","s":"single2multi-scoring-add","m":"UniME-V2-7B","v":39},{"b":"ViDoRe-V2","s":"single2multi-scoring-add","m":"B3-2B","v":31},{"b":"ViDoRe-V2","s":"single2multi-scoring-add","m":"B3-7B","v":38},
{"b":"ViDoRe-V2","s":"single2multi-scoring-multiply","m":"VLM2Vec-V1-2B","v":12},{"b":"ViDoRe-V2","s":"single2multi-scoring-multiply","m":"VLM2Vec-V1-7B","v":30},{"b":"ViDoRe-V2","s":"single2multi-scoring-multiply","m":"VLM2Vec-V2-2B","v":38},{"b":"ViDoRe-V2","s":"single2multi-scoring-multiply","m":"LamRA-Ret","v":16},{"b":"ViDoRe-V2","s":"single2multi-scoring-multiply","m":"GME-2B","v":43},{"b":"ViDoRe-V2","s":"single2multi-scoring-multiply","m":"GME-7B","v":42},{"b":"ViDoRe-V2","s":"single2multi-scoring-multiply","m":"UniME-V2-2B","v":32},{"b":"ViDoRe-V2","s":"single2multi-scoring-multiply","m":"UniME-V2-7B","v":39},{"b":"ViDoRe-V2","s":"single2multi-scoring-multiply","m":"B3-2B","v":31},{"b":"ViDoRe-V2","s":"single2multi-scoring-multiply","m":"B3-7B","v":39},
{"b":"ViDoRe-V2","s":"ColParse (Ours)","m":"VLM2Vec-V1-2B","v":33},{"b":"ViDoRe-V2","s":"ColParse (Ours)","m":"VLM2Vec-V1-7B","v":45},{"b":"ViDoRe-V2","s":"ColParse (Ours)","m":"VLM2Vec-V2-2B","v":51},{"b":"ViDoRe-V2","s":"ColParse (Ours)","m":"LamRA-Ret","v":21},{"b":"ViDoRe-V2","s":"ColParse (Ours)","m":"GME-2B","v":54},{"b":"ViDoRe-V2","s":"ColParse (Ours)","m":"GME-7B","v":63},{"b":"ViDoRe-V2","s":"ColParse (Ours)","m":"UniME-V2-2B","v":48},{"b":"ViDoRe-V2","s":"ColParse (Ours)","m":"UniME-V2-7B","v":52},{"b":"ViDoRe-V2","s":"ColParse (Ours)","m":"B3-2B","v":45},{"b":"ViDoRe-V2","s":"ColParse (Ours)","m":"B3-7B","v":51},

{"b":"ViDoSeek","s":"base","m":"VLM2Vec-V1-2B","v":63},{"b":"ViDoSeek","s":"base","m":"VLM2Vec-V1-7B","v":69},{"b":"ViDoSeek","s":"base","m":"VLM2Vec-V2-2B","v":81},{"b":"ViDoSeek","s":"base","m":"LamRA-Ret","v":46},{"b":"ViDoSeek","s":"base","m":"GME-2B","v":80},{"b":"ViDoSeek","s":"base","m":"GME-7B","v":82},{"b":"ViDoSeek","s":"base","m":"UniME-V2-2B","v":65},{"b":"ViDoSeek","s":"base","m":"UniME-V2-7B","v":80},{"b":"ViDoSeek","s":"base","m":"B3-2B","v":77},{"b":"ViDoSeek","s":"base","m":"B3-7B","v":81},
{"b":"ViDoSeek","s":"chunking-layout-subimg-cluster","m":"VLM2Vec-V1-2B","v":32},{"b":"ViDoSeek","s":"chunking-layout-subimg-cluster","m":"VLM2Vec-V1-7B","v":46},{"b":"ViDoSeek","s":"chunking-layout-subimg-cluster","m":"VLM2Vec-V2-2B","v":49},{"b":"ViDoSeek","s":"chunking-layout-subimg-cluster","m":"LamRA-Ret","v":35},{"b":"ViDoSeek","s":"chunking-layout-subimg-cluster","m":"GME-2B","v":32},{"b":"ViDoSeek","s":"chunking-layout-subimg-cluster","m":"GME-7B","v":26},{"b":"ViDoSeek","s":"chunking-layout-subimg-cluster","m":"UniME-V2-2B","v":45},{"b":"ViDoSeek","s":"chunking-layout-subimg-cluster","m":"UniME-V2-7B","v":50},{"b":"ViDoSeek","s":"chunking-layout-subimg-cluster","m":"B3-2B","v":50},{"b":"ViDoSeek","s":"chunking-layout-subimg-cluster","m":"B3-7B","v":64},
{"b":"ViDoSeek","s":"chunking-layout-subimg-mean","m":"VLM2Vec-V1-2B","v":32},{"b":"ViDoSeek","s":"chunking-layout-subimg-mean","m":"VLM2Vec-V1-7B","v":46},{"b":"ViDoSeek","s":"chunking-layout-subimg-mean","m":"VLM2Vec-V2-2B","v":50},{"b":"ViDoSeek","s":"chunking-layout-subimg-mean","m":"LamRA-Ret","v":36},{"b":"ViDoSeek","s":"chunking-layout-subimg-mean","m":"GME-2B","v":43},{"b":"ViDoSeek","s":"chunking-layout-subimg-mean","m":"GME-7B","v":26},{"b":"ViDoSeek","s":"chunking-layout-subimg-mean","m":"UniME-V2-2B","v":44},{"b":"ViDoSeek","s":"chunking-layout-subimg-mean","m":"UniME-V2-7B","v":51},{"b":"ViDoSeek","s":"chunking-layout-subimg-mean","m":"B3-2B","v":49},{"b":"ViDoSeek","s":"chunking-layout-subimg-mean","m":"B3-7B","v":65},
{"b":"ViDoSeek","s":"chunking-layout-type-cluster","m":"VLM2Vec-V1-2B","v":30},{"b":"ViDoSeek","s":"chunking-layout-type-cluster","m":"VLM2Vec-V1-7B","v":50},{"b":"ViDoSeek","s":"chunking-layout-type-cluster","m":"VLM2Vec-V2-2B","v":52},{"b":"ViDoSeek","s":"chunking-layout-type-cluster","m":"LamRA-Ret","v":34},{"b":"ViDoSeek","s":"chunking-layout-type-cluster","m":"GME-2B","v":42},{"b":"ViDoSeek","s":"chunking-layout-type-cluster","m":"GME-7B","v":30},{"b":"ViDoSeek","s":"chunking-layout-type-cluster","m":"UniME-V2-2B","v":40},{"b":"ViDoSeek","s":"chunking-layout-type-cluster","m":"UniME-V2-7B","v":46},{"b":"ViDoSeek","s":"chunking-layout-type-cluster","m":"B3-2B","v":48},{"b":"ViDoSeek","s":"chunking-layout-type-cluster","m":"B3-7B","v":62},
{"b":"ViDoSeek","s":"chunking-layout-type-mean","m":"VLM2Vec-V1-2B","v":32},{"b":"ViDoSeek","s":"chunking-layout-type-mean","m":"VLM2Vec-V1-7B","v":53},{"b":"ViDoSeek","s":"chunking-layout-type-mean","m":"VLM2Vec-V2-2B","v":56},{"b":"ViDoSeek","s":"chunking-layout-type-mean","m":"LamRA-Ret","v":35},{"b":"ViDoSeek","s":"chunking-layout-type-mean","m":"GME-2B","v":43},{"b":"ViDoSeek","s":"chunking-layout-type-mean","m":"GME-7B","v":32},{"b":"ViDoSeek","s":"chunking-layout-type-mean","m":"UniME-V2-2B","v":40},{"b":"ViDoSeek","s":"chunking-layout-type-mean","m":"UniME-V2-7B","v":47},{"b":"ViDoSeek","s":"chunking-layout-type-mean","m":"B3-2B","v":50},{"b":"ViDoSeek","s":"chunking-layout-type-mean","m":"B3-7B","v":64},
{"b":"ViDoSeek","s":"chunking-semantic","m":"VLM2Vec-V1-2B","v":52},{"b":"ViDoSeek","s":"chunking-semantic","m":"VLM2Vec-V1-7B","v":68},{"b":"ViDoSeek","s":"chunking-semantic","m":"VLM2Vec-V2-2B","v":71},{"b":"ViDoSeek","s":"chunking-semantic","m":"LamRA-Ret","v":44},{"b":"ViDoSeek","s":"chunking-semantic","m":"GME-2B","v":59},{"b":"ViDoSeek","s":"chunking-semantic","m":"GME-7B","v":43},{"b":"ViDoSeek","s":"chunking-semantic","m":"UniME-V2-2B","v":61},{"b":"ViDoSeek","s":"chunking-semantic","m":"UniME-V2-7B","v":68},{"b":"ViDoSeek","s":"chunking-semantic","m":"B3-2B","v":60},{"b":"ViDoSeek","s":"chunking-semantic","m":"B3-7B","v":72},
{"b":"ViDoSeek","s":"multi-img","m":"VLM2Vec-V1-2B","v":37},{"b":"ViDoSeek","s":"multi-img","m":"VLM2Vec-V1-7B","v":53},{"b":"ViDoSeek","s":"multi-img","m":"VLM2Vec-V2-2B","v":56},{"b":"ViDoSeek","s":"multi-img","m":"LamRA-Ret","v":20},{"b":"ViDoSeek","s":"multi-img","m":"GME-2B","v":58},{"b":"ViDoSeek","s":"multi-img","m":"GME-7B","v":64},{"b":"ViDoSeek","s":"multi-img","m":"UniME-V2-2B","v":55},{"b":"ViDoSeek","s":"multi-img","m":"UniME-V2-7B","v":59},{"b":"ViDoSeek","s":"multi-img","m":"B3-2B","v":46},{"b":"ViDoSeek","s":"multi-img","m":"B3-7B","v":56},
{"b":"ViDoSeek","s":"single2multi-scoring-add","m":"VLM2Vec-V1-2B","v":40},{"b":"ViDoSeek","s":"single2multi-scoring-add","m":"VLM2Vec-V1-7B","v":56},{"b":"ViDoSeek","s":"single2multi-scoring-add","m":"VLM2Vec-V2-2B","v":67},{"b":"ViDoSeek","s":"single2multi-scoring-add","m":"LamRA-Ret","v":39},{"b":"ViDoSeek","s":"single2multi-scoring-add","m":"GME-2B","v":73},{"b":"ViDoSeek","s":"single2multi-scoring-add","m":"GME-7B","v":74},{"b":"ViDoSeek","s":"single2multi-scoring-add","m":"UniME-V2-2B","v":54},{"b":"ViDoSeek","s":"single2multi-scoring-add","m":"UniME-V2-7B","v":66},{"b":"ViDoSeek","s":"single2multi-scoring-add","m":"B3-2B","v":60},{"b":"ViDoSeek","s":"single2multi-scoring-add","m":"B3-7B","v":69},
{"b":"ViDoSeek","s":"single2multi-scoring-multiply","m":"VLM2Vec-V1-2B","v":38},{"b":"ViDoSeek","s":"single2multi-scoring-multiply","m":"VLM2Vec-V1-7B","v":56},{"b":"ViDoSeek","s":"single2multi-scoring-multiply","m":"VLM2Vec-V2-2B","v":68},{"b":"ViDoSeek","s":"single2multi-scoring-multiply","m":"LamRA-Ret","v":40},{"b":"ViDoSeek","s":"single2multi-scoring-multiply","m":"GME-2B","v":75},{"b":"ViDoSeek","s":"single2multi-scoring-multiply","m":"GME-7B","v":72},{"b":"ViDoSeek","s":"single2multi-scoring-multiply","m":"UniME-V2-2B","v":53},{"b":"ViDoSeek","s":"single2multi-scoring-multiply","m":"UniME-V2-7B","v":67},{"b":"ViDoSeek","s":"single2multi-scoring-multiply","m":"B3-2B","v":61},{"b":"ViDoSeek","s":"single2multi-scoring-multiply","m":"B3-7B","v":70},
{"b":"ViDoSeek","s":"ColParse (Ours)","m":"VLM2Vec-V1-2B","v":72},{"b":"ViDoSeek","s":"ColParse (Ours)","m":"VLM2Vec-V1-7B","v":78},{"b":"ViDoSeek","s":"ColParse (Ours)","m":"VLM2Vec-V2-2B","v":82},{"b":"ViDoSeek","s":"ColParse (Ours)","m":"LamRA-Ret","v":49},{"b":"ViDoSeek","s":"ColParse (Ours)","m":"GME-2B","v":82},{"b":"ViDoSeek","s":"ColParse (Ours)","m":"GME-7B","v":84},{"b":"ViDoSeek","s":"ColParse (Ours)","m":"UniME-V2-2B","v":80},{"b":"ViDoSeek","s":"ColParse (Ours)","m":"UniME-V2-7B","v":82},{"b":"ViDoSeek","s":"ColParse (Ours)","m":"B3-2B","v":80},{"b":"ViDoSeek","s":"ColParse (Ours)","m":"B3-7B","v":83},

{"b":"VisRAG","s":"base","m":"VLM2Vec-V1-2B","v":55},{"b":"VisRAG","s":"base","m":"VLM2Vec-V1-7B","v":60},{"b":"VisRAG","s":"base","m":"VLM2Vec-V2-2B","v":78},{"b":"VisRAG","s":"base","m":"LamRA-Ret","v":41},{"b":"VisRAG","s":"base","m":"GME-2B","v":82},{"b":"VisRAG","s":"base","m":"GME-7B","v":85},{"b":"VisRAG","s":"base","m":"UniME-V2-2B","v":63},{"b":"VisRAG","s":"base","m":"UniME-V2-7B","v":70},{"b":"VisRAG","s":"base","m":"B3-2B","v":58},{"b":"VisRAG","s":"base","m":"B3-7B","v":72},
{"b":"VisRAG","s":"chunking-layout-subimg-cluster","m":"VLM2Vec-V1-2B","v":18},{"b":"VisRAG","s":"chunking-layout-subimg-cluster","m":"VLM2Vec-V1-7B","v":21},{"b":"VisRAG","s":"chunking-layout-subimg-cluster","m":"VLM2Vec-V2-2B","v":28},{"b":"VisRAG","s":"chunking-layout-subimg-cluster","m":"LamRA-Ret","v":14},{"b":"VisRAG","s":"chunking-layout-subimg-cluster","m":"GME-2B","v":17},{"b":"VisRAG","s":"chunking-layout-subimg-cluster","m":"GME-7B","v":13},{"b":"VisRAG","s":"chunking-layout-subimg-cluster","m":"UniME-V2-2B","v":23},{"b":"VisRAG","s":"chunking-layout-subimg-cluster","m":"UniME-V2-7B","v":24},{"b":"VisRAG","s":"chunking-layout-subimg-cluster","m":"B3-2B","v":29},{"b":"VisRAG","s":"chunking-layout-subimg-cluster","m":"B3-7B","v":36},
{"b":"VisRAG","s":"chunking-layout-subimg-mean","m":"VLM2Vec-V1-2B","v":18},{"b":"VisRAG","s":"chunking-layout-subimg-mean","m":"VLM2Vec-V1-7B","v":24},{"b":"VisRAG","s":"chunking-layout-subimg-mean","m":"VLM2Vec-V2-2B","v":30},{"b":"VisRAG","s":"chunking-layout-subimg-mean","m":"LamRA-Ret","v":14},{"b":"VisRAG","s":"chunking-layout-subimg-mean","m":"GME-2B","v":18},{"b":"VisRAG","s":"chunking-layout-subimg-mean","m":"GME-7B","v":15},{"b":"VisRAG","s":"chunking-layout-subimg-mean","m":"UniME-V2-2B","v":24},{"b":"VisRAG","s":"chunking-layout-subimg-mean","m":"UniME-V2-7B","v":34},{"b":"VisRAG","s":"chunking-layout-subimg-mean","m":"B3-2B","v":28},{"b":"VisRAG","s":"chunking-layout-subimg-mean","m":"B3-7B","v":37},
{"b":"VisRAG","s":"chunking-layout-type-cluster","m":"VLM2Vec-V1-2B","v":16},{"b":"VisRAG","s":"chunking-layout-type-cluster","m":"VLM2Vec-V1-7B","v":22},{"b":"VisRAG","s":"chunking-layout-type-cluster","m":"VLM2Vec-V2-2B","v":26},{"b":"VisRAG","s":"chunking-layout-type-cluster","m":"LamRA-Ret","v":13},{"b":"VisRAG","s":"chunking-layout-type-cluster","m":"GME-2B","v":20},{"b":"VisRAG","s":"chunking-layout-type-cluster","m":"GME-7B","v":14},{"b":"VisRAG","s":"chunking-layout-type-cluster","m":"UniME-V2-2B","v":20},{"b":"VisRAG","s":"chunking-layout-type-cluster","m":"UniME-V2-7B","v":22},{"b":"VisRAG","s":"chunking-layout-type-cluster","m":"B3-2B","v":24},{"b":"VisRAG","s":"chunking-layout-type-cluster","m":"B3-7B","v":30},
{"b":"VisRAG","s":"chunking-layout-type-mean","m":"VLM2Vec-V1-2B","v":18},{"b":"VisRAG","s":"chunking-layout-type-mean","m":"VLM2Vec-V1-7B","v":32},{"b":"VisRAG","s":"chunking-layout-type-mean","m":"VLM2Vec-V2-2B","v":37},{"b":"VisRAG","s":"chunking-layout-type-mean","m":"LamRA-Ret","v":16},{"b":"VisRAG","s":"chunking-layout-type-mean","m":"GME-2B","v":26},{"b":"VisRAG","s":"chunking-layout-type-mean","m":"GME-7B","v":16},{"b":"VisRAG","s":"chunking-layout-type-mean","m":"UniME-V2-2B","v":20},{"b":"VisRAG","s":"chunking-layout-type-mean","m":"UniME-V2-7B","v":35},{"b":"VisRAG","s":"chunking-layout-type-mean","m":"B3-2B","v":25},{"b":"VisRAG","s":"chunking-layout-type-mean","m":"B3-7B","v":38},
{"b":"VisRAG","s":"chunking-semantic","m":"VLM2Vec-V1-2B","v":31},{"b":"VisRAG","s":"chunking-semantic","m":"VLM2Vec-V1-7B","v":45},{"b":"VisRAG","s":"chunking-semantic","m":"VLM2Vec-V2-2B","v":53},{"b":"VisRAG","s":"chunking-semantic","m":"LamRA-Ret","v":25},{"b":"VisRAG","s":"chunking-semantic","m":"GME-2B","v":42},{"b":"VisRAG","s":"chunking-semantic","m":"GME-7B","v":20},{"b":"VisRAG","s":"chunking-semantic","m":"UniME-V2-2B","v":42},{"b":"VisRAG","s":"chunking-semantic","m":"UniME-V2-7B","v":57},{"b":"VisRAG","s":"chunking-semantic","m":"B3-2B","v":43},{"b":"VisRAG","s":"chunking-semantic","m":"B3-7B","v":59},
{"b":"VisRAG","s":"multi-img","m":"VLM2Vec-V1-2B","v":36},{"b":"VisRAG","s":"multi-img","m":"VLM2Vec-V1-7B","v":46},{"b":"VisRAG","s":"multi-img","m":"VLM2Vec-V2-2B","v":56},{"b":"VisRAG","s":"multi-img","m":"LamRA-Ret","v":18},{"b":"VisRAG","s":"multi-img","m":"GME-2B","v":61},{"b":"VisRAG","s":"multi-img","m":"GME-7B","v":65},{"b":"VisRAG","s":"multi-img","m":"UniME-V2-2B","v":46},{"b":"VisRAG","s":"multi-img","m":"UniME-V2-7B","v":53},{"b":"VisRAG","s":"multi-img","m":"B3-2B","v":32},{"b":"VisRAG","s":"multi-img","m":"B3-7B","v":42},
{"b":"VisRAG","s":"single2multi-scoring-add","m":"VLM2Vec-V1-2B","v":40},{"b":"VisRAG","s":"single2multi-scoring-add","m":"VLM2Vec-V1-7B","v":48},{"b":"VisRAG","s":"single2multi-scoring-add","m":"VLM2Vec-V2-2B","v":65},{"b":"VisRAG","s":"single2multi-scoring-add","m":"LamRA-Ret","v":26},{"b":"VisRAG","s":"single2multi-scoring-add","m":"GME-2B","v":70},{"b":"VisRAG","s":"single2multi-scoring-add","m":"GME-7B","v":72},{"b":"VisRAG","s":"single2multi-scoring-add","m":"UniME-V2-2B","v":51},{"b":"VisRAG","s":"single2multi-scoring-add","m":"UniME-V2-7B","v":58},{"b":"VisRAG","s":"single2multi-scoring-add","m":"B3-2B","v":45},{"b":"VisRAG","s":"single2multi-scoring-add","m":"B3-7B","v":63},
{"b":"VisRAG","s":"single2multi-scoring-multiply","m":"VLM2Vec-V1-2B","v":40},{"b":"VisRAG","s":"single2multi-scoring-multiply","m":"VLM2Vec-V1-7B","v":49},{"b":"VisRAG","s":"single2multi-scoring-multiply","m":"VLM2Vec-V2-2B","v":66},{"b":"VisRAG","s":"single2multi-scoring-multiply","m":"LamRA-Ret","v":26},{"b":"VisRAG","s":"single2multi-scoring-multiply","m":"GME-2B","v":72},{"b":"VisRAG","s":"single2multi-scoring-multiply","m":"GME-7B","v":70},{"b":"VisRAG","s":"single2multi-scoring-multiply","m":"UniME-V2-2B","v":50},{"b":"VisRAG","s":"single2multi-scoring-multiply","m":"UniME-V2-7B","v":59},{"b":"VisRAG","s":"single2multi-scoring-multiply","m":"B3-2B","v":45},{"b":"VisRAG","s":"single2multi-scoring-multiply","m":"B3-7B","v":64},
{"b":"VisRAG","s":"ColParse (Ours)","m":"VLM2Vec-V1-2B","v":53},{"b":"VisRAG","s":"ColParse (Ours)","m":"VLM2Vec-V1-7B","v":60},{"b":"VisRAG","s":"ColParse (Ours)","m":"VLM2Vec-V2-2B","v":78},{"b":"VisRAG","s":"ColParse (Ours)","m":"LamRA-Ret","v":41},{"b":"VisRAG","s":"ColParse (Ours)","m":"GME-2B","v":82},{"b":"VisRAG","s":"ColParse (Ours)","m":"GME-7B","v":85},{"b":"VisRAG","s":"ColParse (Ours)","m":"UniME-V2-2B","v":63},{"b":"VisRAG","s":"ColParse (Ours)","m":"UniME-V2-7B","v":70},{"b":"VisRAG","s":"ColParse (Ours)","m":"B3-2B","v":58},{"b":"VisRAG","s":"ColParse (Ours)","m":"B3-7B","v":72}
]
},
"vconcat": [
{
 "data": {"name": "scores"},
 "transform": [
  {"calculate": "indexof(['VLM2Vec-V1-2B','VLM2Vec-V1-7B','VLM2Vec-V2-2B','LamRA-Ret','GME-2B','GME-7B','UniME-V2-2B','UniME-V2-7B','B3-2B','B3-7B'], datum.m)", "as": "k"},
  {"calculate": "datum.k * PI / 5", "as": "ang"},
  {"calculate": "datum.v * cos(datum.ang)", "as": "px"},
  {"calculate": "datum.v * sin(datum.ang)", "as": "py"},
  {"calculate": "0", "as": "o"}
 ],
 "facet": {"field": "b", "type": "nominal", "sort": ["Overall", "MMLongBench", "ViDoRe-V1", "ViDoRe-V2", "ViDoSeek", "VisRAG"], "header": {"labels": false, "labelExpr": "''", "labelFontSize": 0, "labelPadding": 0, "title": null}},
 "columns": 3,
 "spacing": {"row": 73, "column": 88},
 "bounds": "flush",
 "spec": {
  "width": 298,
  "height": 298,
  "layer": [
   {
    "transform": [
     {"filter": "datum.s == 'base' && datum.k == 0"},
     {"calculate": "[20, 40, 60, 80, 100]", "as": "ring"},
     {"flatten": ["ring"]}
    ],
    "mark": {"type": "point", "shape": "circle", "filled": false, "opacity": 1},
    "encoding": {
     "x": {"field": "o", "type": "quantitative", "scale": {"domain": [-100, 100], "nice": false, "zero": false}, "axis": null},
     "y": {"field": "o", "type": "quantitative", "scale": {"domain": [-100, 100], "nice": false, "zero": false}, "axis": null},
     "size": {"field": "ring", "type": "quantitative", "scale": {"type": "pow", "exponent": 2, "domain": [0, 100], "range": [0, 88804], "zero": true}, "legend": null},
     "stroke": {"condition": {"test": "datum.ring == 100", "value": "#222222"}, "value": "#d3d3d3"},
     "strokeWidth": {"condition": {"test": "datum.ring == 100", "value": 1.1}, "value": 0.9}
    }
   },
   {
    "transform": [
     {"filter": "datum.s == 'base'"},
     {"calculate": "100 * cos(datum.ang)", "as": "ex"},
     {"calculate": "100 * sin(datum.ang)", "as": "ey"}
    ],
    "mark": {"type": "rule", "color": "#d3d3d3", "strokeWidth": 0.9},
    "encoding": {
     "x": {"field": "o", "type": "quantitative"},
     "y": {"field": "o", "type": "quantitative"},
     "x2": {"field": "ex"},
     "y2": {"field": "ey"}
    }
   },
   {
    "transform": [
     {"filter": "datum.s == 'base' && datum.k == 0"},
     {"calculate": "[20, 40, 60, 80, 100]", "as": "ring"},
     {"flatten": ["ring"]}
    ],
    "mark": {"type": "text", "dx": 5, "dy": -4.5, "fontSize": 9.5, "color": "#a5a5a5", "align": "center", "baseline": "middle"},
    "encoding": {
     "x": {"field": "o", "type": "quantitative"},
     "y": {"field": "ring", "type": "quantitative"},
     "text": {"field": "ring", "type": "quantitative"}
    }
   },
   {
    "transform": [{"filter": "datum.s == 'ColParse (Ours)'"}],
    "mark": {"type": "line", "interpolate": "linear-closed", "strokeWidth": 2, "fillOpacity": 0.25, "strokeJoin": "round"},
    "encoding": {
     "x": {"field": "px", "type": "quantitative"},
     "y": {"field": "py", "type": "quantitative"},
     "order": {"field": "k", "type": "quantitative"},
     "stroke": {"field": "s", "type": "nominal",
      "scale": {"domain": ["base", "chunking-layout-subimg-cluster", "chunking-layout-subimg-mean", "chunking-layout-type-cluster", "chunking-layout-type-mean", "chunking-semantic", "multi-img", "single2multi-scoring-add", "single2multi-scoring-multiply", "ColParse (Ours)"],
                "range": ["#6e6e6e", "#138f8c", "#3cbe8e", "#fcc691", "#fde09a", "#d2878a", "#c4c2e6", "#29b1e2", "#3a8de8", "#d8262b"]},
      "legend": null
     },
     "fill": {"field": "s", "type": "nominal",
      "scale": {"domain": ["base", "chunking-layout-subimg-cluster", "chunking-layout-subimg-mean", "chunking-layout-type-cluster", "chunking-layout-type-mean", "chunking-semantic", "multi-img", "single2multi-scoring-add", "single2multi-scoring-multiply", "ColParse (Ours)"],
                "range": ["#6e6e6e", "#138f8c", "#3cbe8e", "#fcc691", "#fde09a", "#d2878a", "#c4c2e6", "#29b1e2", "#3a8de8", "#d8262b"]},
      "legend": {"orient": "none", "legendX": -28, "legendY": -85, "title": null, "columns": 5,
       "symbolType": "M-1,-1H5.75V1H-1Z", "symbolSize": 64, "symbolStrokeWidth": 0, "symbolOpacity": 1,
       "labelFont": "DejaVu Sans", "labelFontSize": 11, "labelColor": "#262626", "labelOffset": 27, "labelLimit": 400,
       "columnPadding": 24.5, "rowPadding": 6, "padding": 4,
       "strokeColor": "#3c3c3c", "fillColor": "#ffffff", "cornerRadius": 3}
     }
    }
   },
   {
    "transform": [{"filter": "datum.s != 'ColParse (Ours)' && datum.s != 'base'"}],
    "mark": {"type": "line", "interpolate": "linear-closed", "strokeWidth": 1.6, "fillOpacity": 0.25, "strokeJoin": "round"},
    "encoding": {
     "x": {"field": "px", "type": "quantitative"},
     "y": {"field": "py", "type": "quantitative"},
     "order": {"field": "k", "type": "quantitative"},
     "stroke": {"field": "s", "type": "nominal", "legend": null},
     "fill": {"field": "s", "type": "nominal"}
    }
   },
   {
    "transform": [{"filter": "datum.s == 'base'"}],
    "mark": {"type": "line", "interpolate": "linear-closed", "strokeWidth": 1.8, "strokeJoin": "round"},
    "encoding": {
     "x": {"field": "px", "type": "quantitative"},
     "y": {"field": "py", "type": "quantitative"},
     "order": {"field": "k", "type": "quantitative"},
     "stroke": {"field": "s", "type": "nominal", "legend": null}
    }
   },
   {
    "transform": [{"filter": "datum.s == 'ColParse (Ours)'"}],
    "mark": {"type": "point", "shape": "M0,-1L0.2245,-0.309L0.951,-0.309L0.363,0.118L0.588,0.809L0,0.382L-0.588,0.809L-0.363,0.118L-0.951,-0.309L-0.2245,-0.309Z", "size": 134, "filled": true, "fill": "#d8262b", "stroke": "#c41f24", "strokeWidth": 0.6, "opacity": 1},
    "encoding": {
     "x": {"field": "px", "type": "quantitative"},
     "y": {"field": "py", "type": "quantitative"}
    }
   },
   {
    "transform": [
     {"filter": "datum.s == 'base'"},
     {"calculate": "108.7 * cos(datum.ang)", "as": "lx"},
     {"calculate": "108.7 * sin(datum.ang)", "as": "ly"}
    ],
    "mark": {"type": "text", "fontSize": 9.5, "color": "#262626", "align": "center", "baseline": "middle"},
    "encoding": {
     "x": {"field": "lx", "type": "quantitative"},
     "y": {"field": "ly", "type": "quantitative"},
     "text": {"field": "m", "type": "nominal"}
    }
   },
   {
    "transform": [{"filter": "datum.s == 'base' && datum.k == 0"}, {"calculate": "114", "as": "ty"}],
    "mark": {"type": "text", "fontSize": 17, "fontWeight": "bold", "color": "#000000", "align": "center", "baseline": "middle"},
    "encoding": {
     "x": {"field": "o", "type": "quantitative"},
     "y": {"field": "ty", "type": "quantitative"},
     "text": {"field": "b", "type": "nominal"}
    }
   }
  ]
 }
},
{
 "width": 1070,
 "height": 80,
 "data": {"values": [{"line": 1}]},
 "layer": [
  {"mark": {"type": "text", "text": "Figure 4.", "x": -185, "y": 42, "align": "left", "baseline": "alphabetic", "font": "Liberation Serif", "fontSize": 26.9, "fontStyle": "italic", "color": "#111111"}, "encoding": {}},
  {"mark": {"type": "text", "text": "The performance comparison (evaluated by nDCG@5) between", "x": -80, "y": 42, "align": "left", "baseline": "alphabetic", "font": "Liberation Serif", "fontSize": 26.9, "color": "#111111"}, "encoding": {}},
  {"mark": {"type": "text", "text": "ColParse", "x": 616, "y": 42, "align": "left", "baseline": "alphabetic", "font": "Liberation Mono", "fontSize": 23.3, "color": "#111111"}, "encoding": {}},
  {"mark": {"type": "text", "text": "and baselines on five VDR benchmarks across ten", "x": 735, "y": 42, "align": "left", "baseline": "alphabetic", "font": "Liberation Serif", "fontSize": 26.9, "color": "#111111"}, "encoding": {}},
  {"mark": {"type": "text", "text": "mainstream single-vector multimodal retrieval models. Refer to", "x": -185, "y": 72, "align": "left", "baseline": "alphabetic", "font": "Liberation Serif", "fontSize": 26.9, "color": "#111111"}, "encoding": {}},
  {"mark": {"type": "text", "text": "Table 2", "x": 507, "y": 72, "align": "left", "baseline": "alphabetic", "font": "Liberation Serif", "fontSize": 26.9, "color": "#1f2a8f"}, "encoding": {}},
  {"mark": {"type": "text", "text": "and", "x": 595, "y": 72, "align": "left", "baseline": "alphabetic", "font": "Liberation Serif", "fontSize": 26.9, "color": "#111111"}, "encoding": {}},
  {"mark": {"type": "text", "text": "Table 3", "x": 644, "y": 72, "align": "left", "baseline": "alphabetic", "font": "Liberation Serif", "fontSize": 26.9, "color": "#1f2a8f"}, "encoding": {}},
  {"mark": {"type": "text", "text": "for detailed result records due to the space limit.", "x": 729, "y": 72, "align": "left", "baseline": "alphabetic", "font": "Liberation Serif", "fontSize": 26.9, "color": "#111111"}, "encoding": {}}
 ]
}
]
}
